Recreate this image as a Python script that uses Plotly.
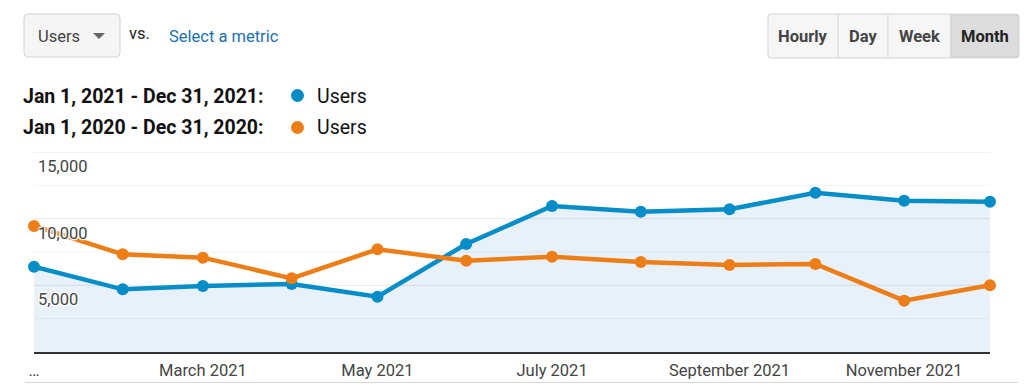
import plotly.graph_objects as go

W, H = 1024, 384

months = ["2021-01-01", "2021-02-01", "2021-03-01", "2021-04-01", "2021-05-01", "2021-06-01",
          "2021-07-01", "2021-08-01", "2021-09-01", "2021-10-01", "2021-11-01", "2021-12-01"]
users_2021 = [6400, 4700, 4950, 5100, 4150, 8100, 10950, 10525, 10700, 11950, 11350, 11275]
users_2020 = [9450, 7325, 7075, 5525, 7700, 6850, 7150, 6750, 6525, 6600, 3850, 5000]

x_tick_vals = ["2021-01-01", "2021-03-01", "2021-05-01", "2021-07-01", "2021-09-01", "2021-11-01"]
x_tick_text = ["…", "March 2021", "May 2021", "July 2021", "September 2021", "November 2021"]
y_label_vals = [15000, 10000, 5000]
y_label_text = ["15,000", "10,000", "5,000"]
y_grid_vals = [2500, 5000, 7500, 10000, 12500, 15000]

range_2021 = "Jan 1, 2021 - Dec 31, 2021:"
range_2020 = "Jan 1, 2020 - Dec 31, 2020:"
metric = "Users"
buttons = ["Hourly", "Day", "Week", "Month"]

BLUE = "#058dc7"
ORANGE = "#ed7e17"
FONT = "Roboto, Arial, sans-serif"

def px(x):
    return x / W

def py(y):
    return 1 - y / H

def rounded_rect(x0, y0, x1, y1, r):
    # pixel coords (y down) -> paper path with rounded corners
    pts = [
        f"M {px(x0 + r)} {py(y0)}", f"L {px(x1 - r)} {py(y0)}",
        f"Q {px(x1)} {py(y0)} {px(x1)} {py(y0 + r)}", f"L {px(x1)} {py(y1 - r)}",
        f"Q {px(x1)} {py(y1)} {px(x1 - r)} {py(y1)}", f"L {px(x0 + r)} {py(y1)}",
        f"Q {px(x0)} {py(y1)} {px(x0)} {py(y1 - r)}", f"L {px(x0)} {py(y0 + r)}",
        f"Q {px(x0)} {py(y0)} {px(x0 + r)} {py(y0)}", "Z",
    ]
    return " ".join(pts)

fig = go.Figure()

fig.add_trace(go.Scatter(
    x=months, y=users_2021, mode="lines+markers", fill="tozeroy",
    fillcolor="rgba(30,120,200,0.10)",
    line=dict(color=BLUE, width=4.5), marker=dict(color=BLUE, size=12),
    cliponaxis=False, hoverinfo="skip", showlegend=False))
fig.add_trace(go.Scatter(
    x=months, y=users_2020, mode="lines+markers",
    line=dict(color=ORANGE, width=4.5), marker=dict(color=ORANGE, size=12),
    cliponaxis=False, hoverinfo="skip", showlegend=False))

shapes = []
annotations = []

# horizontal gridlines (under traces)
for v in y_grid_vals:
    shapes.append(dict(type="line", xref="paper", yref="y", x0=px(34), x1=px(990), y0=v, y1=v,
                       line=dict(color="#e8e8e8" if v % 5000 == 0 else "#f2f2f2", width=1),
                       layer="below"))

# bottom border of chart panel
shapes.append(dict(type="line", xref="paper", yref="paper", x0=px(25), x1=px(1018),
                   y0=py(382.5), y1=py(382.5), line=dict(color="#d6d6d6", width=1)))

# y labels with white halo
halo = "1px 1px 1px #fff, -1px -1px 1px #fff, 1px -1px 1px #fff, -1px 1px 1px #fff, 0 0 3px #fff"
for v, t in zip(y_label_vals, y_label_text):
    annotations.append(dict(x=px(36), xref="paper", y=v, yref="y", text=t, showarrow=False,
                            xanchor="left", yanchor="top", yshift=-3,
                            font=dict(family=FONT, size=16.5, color="#444", shadow=halo)))

# Users dropdown
shapes.append(dict(type="path", xref="paper", yref="paper", path=rounded_rect(24, 14, 120, 57, 4),
                   line=dict(color="#d0d0d0", width=1), fillcolor="#f5f5f5", layer="above"))
annotations.append(dict(x=px(36), y=py(36), xref="paper", yref="paper", text=metric, showarrow=False,
                        xanchor="left", yanchor="middle", font=dict(family=FONT, size=16.5, color="#444")))
shapes.append(dict(type="path", xref="paper", yref="paper",
                   path=f"M {px(93)} {py(33)} L {px(105)} {py(33)} L {px(99)} {py(39)} Z",
                   fillcolor="#666", line=dict(width=0), layer="above"))
annotations.append(dict(x=px(127), y=py(34), xref="paper", yref="paper", text="vs.", showarrow=False,
                        xanchor="left", yanchor="middle", font=dict(family=FONT, size=16.5, color="#222")))
annotations.append(dict(x=px(167), y=py(36), xref="paper", yref="paper", text="Select a metric",
                        showarrow=False, xanchor="left", yanchor="middle",
                        font=dict(family=FONT, size=16.5, color="#1a6fb0")))

# period buttons
edges = [768, 838, 888, 951, 1019]
shapes.append(dict(type="path", xref="paper", yref="paper", path=rounded_rect(768, 14, 1019, 58, 3),
                   line=dict(color="#d3d3d3", width=1), fillcolor="#f6f6f6", layer="above"))
for i, b in enumerate(buttons):
    active = (b == "Month")
    if active:
        shapes.append(dict(type="rect", xref="paper", yref="paper", x0=px(edges[i]), x1=px(edges[i + 1] - 1),
                           y0=py(57), y1=py(15), line=dict(color="#cfcfcf", width=1),
                           fillcolor="#dcdcdc", layer="above"))
    if i > 0:
        shapes.append(dict(type="line", xref="paper", yref="paper", x0=px(edges[i]), x1=px(edges[i]),
                           y0=py(58), y1=py(14), line=dict(color="#d3d3d3", width=1), layer="above"))
    annotations.append(dict(x=px((edges[i] + edges[i + 1]) / 2), y=py(36), xref="paper", yref="paper",
                            text=f"<b>{b}</b>", showarrow=False, xanchor="center", yanchor="middle",
                            font=dict(family=FONT, size=16.5, color="#222" if active else "#444")))

# legend rows
for yy, txt, col in [(96, range_2021, BLUE), (128, range_2020, ORANGE)]:
    annotations.append(dict(x=px(21), y=py(yy), xref="paper", yref="paper", text=f"<b>{txt}</b>",
                            showarrow=False, xanchor="left", yanchor="middle",
                            font=dict(family=FONT, size=19.5, color="#111")))
    shapes.append(dict(type="circle", xref="paper", yref="paper", x0=px(291), x1=px(304),
                       y0=py(yy + 6), y1=py(yy - 7), fillcolor=col, line=dict(width=0), layer="above"))
    annotations.append(dict(x=px(315), y=py(yy), xref="paper", yref="paper", text=metric,
                            showarrow=False, xanchor="left", yanchor="middle",
                            font=dict(family=FONT, size=19.5, color="#111")))

fig.update_layout(
    width=W, height=H, margin=dict(l=0, r=0, t=0, b=0, autoexpand=False),
    paper_bgcolor="white", plot_bgcolor="white",
    font=dict(family=FONT, size=16.5, color="#444"),
    shapes=shapes, annotations=annotations,
    xaxis=dict(domain=[34 / W, 990 / W], type="date", range=["2021-01-01", "2021-12-01"],
               tickvals=x_tick_vals, ticktext=x_tick_text, showgrid=False, zeroline=False,
               showline=True, linecolor="#333", linewidth=2, ticks="", fixedrange=True,
               automargin=False, ticklabelstandoff=2,
               tickfont=dict(family=FONT, size=16.5, color="#444")),
    yaxis=dict(domain=[1 - 352 / H, 1 - 152 / H], range=[0, 15000], showgrid=False, zeroline=False,
               showticklabels=False, showline=False, fixedrange=True, automargin=False),
)

fig.write_html("out.html", config={"responsive": False, "displayModeBar": False},
               post_script="document.body.style.margin='0';document.body.style.overflow='hidden';")
